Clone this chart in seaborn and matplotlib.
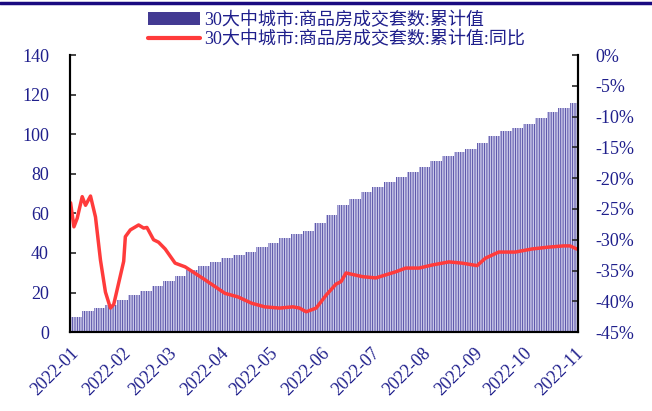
import pandas as pd
import matplotlib.pyplot as plt
import matplotlib.dates as mdates
from matplotlib.lines import Line2D
from matplotlib.patches import Patch
from matplotlib.ticker import FuncFormatter
import seaborn as sns

# DATA
# weekly cumulative deals (bars), week start dates
week_start = pd.date_range('2022-01-01', periods=44, freq='7D')
cum_value = [7.5, 10.7, 12.3, 13.7, 16.4, 18.8, 21.0, 23.3, 25.9, 28.5,
             31.2, 33.3, 35.4, 37.5, 39.0, 40.7, 42.9, 45.1, 47.4, 49.5,
             51.2, 55.1, 59.0, 64.3, 67.3, 70.7, 73.5, 75.8, 78.2, 81.0,
             83.6, 86.3, 89.0, 91.0, 92.7, 95.4, 99.1, 101.4, 103.0, 105.2,
             108.1, 111.2, 113.5, 115.7]

# YoY (%)
yoy_dates = ['2022-01-01', '2022-01-03', '2022-01-05', '2022-01-08', '2022-01-10',
             '2022-01-13', '2022-01-16', '2022-01-19', '2022-01-22', '2022-01-25',
             '2022-01-27', '2022-01-30', '2022-02-02', '2022-02-03', '2022-02-06',
             '2022-02-11', '2022-02-14', '2022-02-16', '2022-02-20', '2022-02-23',
             '2022-02-27', '2022-03-05', '2022-03-11', '2022-03-15', '2022-03-23',
             '2022-03-29', '2022-04-04', '2022-04-12', '2022-04-20', '2022-04-28',
             '2022-05-07', '2022-05-15', '2022-05-19', '2022-05-23', '2022-05-29',
             '2022-06-04', '2022-06-10', '2022-06-13', '2022-06-16', '2022-06-26',
             '2022-07-04', '2022-07-10', '2022-07-16', '2022-07-22', '2022-07-30',
             '2022-08-07', '2022-08-17', '2022-08-25', '2022-09-03', '2022-09-08',
             '2022-09-16', '2022-09-26', '2022-10-06', '2022-10-16', '2022-10-25',
             '2022-10-29', '2022-11-02']
yoy_value = [-24.0, -27.9, -26.5, -23.0, -24.4, -22.9, -26.3, -33.3, -38.5, -41.1,
             -40.5, -37.0, -33.5, -29.5, -28.4, -27.6, -28.1, -28.0, -30.0, -30.4,
             -31.5, -33.8, -34.4, -35.1, -36.5, -37.6, -38.7, -39.3, -40.3, -40.9,
             -41.1, -40.9, -41.1, -41.7, -41.1, -39.0, -37.2, -36.8, -35.4, -36.0,
             -36.2, -35.7, -35.2, -34.6, -34.6, -34.1, -33.6, -33.8, -34.2, -33.0,
             -32.0, -32.0, -31.5, -31.2, -31.0, -31.0, -31.5]

bar_label = '30大中城市:商品房成交套数:累计值'
line_label = '30大中城市:商品房成交套数:累计值:同比'
month_ticks = pd.date_range('2022-01-01', '2022-11-01', freq='MS')

# STYLE
sns.set_style('ticks')
plt.rcParams['font.family'] = ['Liberation Serif', 'Noto Sans CJK SC']
plt.rcParams['hatch.linewidth'] = 0.6
navy = '#1f1f8c'
bar_face = '#c9c7e8'
bar_line = '#4a43a0'
red = '#ff3b3b'

fig = plt.figure(figsize=(6.52, 4.11), dpi=100)
ax = fig.add_axes([0.107, 0.192, 0.78, 0.674])

# bars slightly wider than a week so no seams show between them
ax.bar(week_start + pd.Timedelta(days=3.5), cum_value, width=7.3,
       color=bar_face, edgecolor=bar_line, linewidth=0, hatch='|||||||')
ax.set_ylim(0, 140)
ax.set_yticks(range(0, 141, 20))
ax.set_xlim(pd.Timestamp('2021-12-31 12:00'), pd.Timestamp('2022-11-03'))

ax2 = ax.twinx()
yoy = pd.DataFrame({'date': pd.to_datetime(yoy_dates), 'yoy': yoy_value})
sns.lineplot(data=yoy, x='date', y='yoy', color=red, linewidth=2.5, ax=ax2)
ax2.set_ylim(-45, 0)
ax2.set_yticks(range(-45, 1, 5))
ax2.yaxis.set_major_formatter(FuncFormatter(lambda v, p: f'{v:.0f}%'))
ax2.set_xlabel('')
ax2.set_ylabel('')

ax.set_xticks(month_ticks)
ax.xaxis.set_major_formatter(mdates.DateFormatter('%Y-%m'))

for a in (ax, ax2):
    a.spines['top'].set_visible(False)
    for s in ('left', 'right', 'bottom'):
        a.spines[s].set_linewidth(1.5)
        a.spines[s].set_color('black')
    a.tick_params(direction='in', length=4, width=1.2, labelsize=13, labelcolor=navy)
ax.tick_params(axis='y', pad=15)
ax2.tick_params(axis='y', pad=12)
ax.tick_params(axis='x', pad=9)

plt.setp(ax.get_xticklabels(), rotation=45, ha='right', rotation_mode='anchor')

# top navy rule
fig.add_artist(Line2D([0, 1], [0.992, 0.992], color='#1a0a80', linewidth=2.5))

handles = [Patch(facecolor='#433a92', edgecolor='none'),
           Line2D([], [], color=red, linewidth=3)]
fig.legend(handles, [bar_label, line_label], loc='upper left',
           bbox_to_anchor=(0.216, 0.99), frameon=False, fontsize=13,
           handlelength=2.85, handletextpad=0.28, labelspacing=0.1,
           borderaxespad=0, labelcolor=navy)

fig.savefig('out.png', dpi=100)
